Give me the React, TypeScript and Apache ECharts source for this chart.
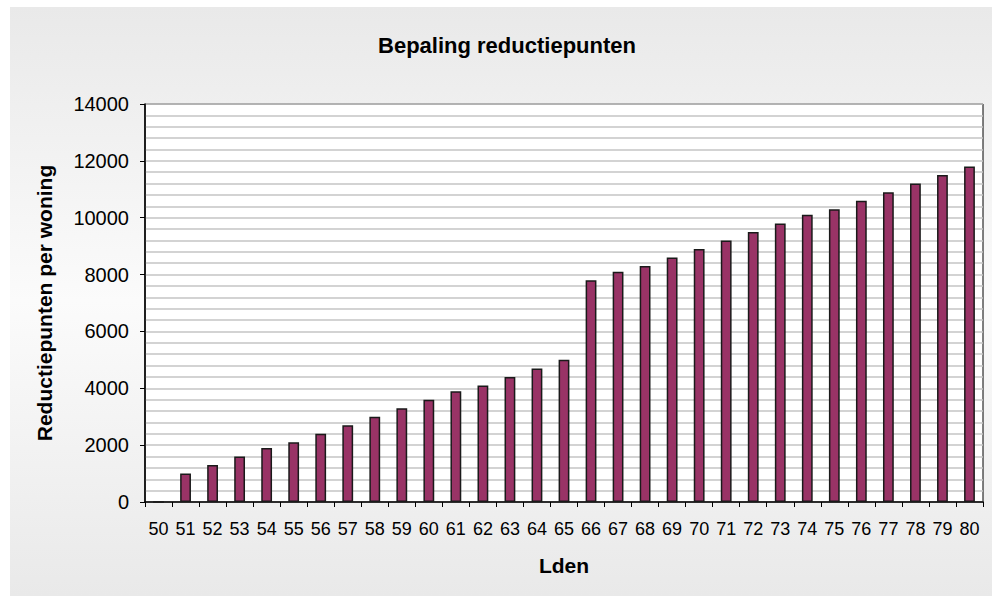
import React, { useEffect, useRef } from "react";
import * as echarts from "echarts";

const categories = ["50","51","52","53","54","55","56","57","58","59","60","61","62","63","64","65","66","67","68","69","70","71","72","73","74","75","76","77","78","79","80"];
const values = [0,1000,1300,1600,1900,2100,2400,2700,3000,3300,3600,3900,4100,4400,4700,5000,7800,8100,8300,8600,8900,9200,9500,9800,10100,10300,10600,10900,11200,11500,11800];
const titleText = "Bepaling reductiepunten";
const xName = "Lden";
const yName = "Reductiepunten per woning";

export default function App() {
  const ref = useRef<HTMLDivElement>(null);
  useEffect(() => {
    document.body.style.margin = "0";
    const chart = echarts.init(ref.current!, null, { renderer: "svg" });
    const font = "Arial, 'Liberation Sans', sans-serif";
    chart.setOption({
      animation: false,
      backgroundColor: "#ffffff",
      graphic: [
        {
          type: "rect",
          z: -10,
          shape: { x: 10, y: 7, width: 982, height: 589 },
          style: {
            fill: new echarts.graphic.LinearGradient(0, 0, 0, 1, [
              { offset: 0, color: "#e9e9e9" },
              { offset: 0.5, color: "#fbfbfb" },
              { offset: 1, color: "#e9e9e9" },
            ]),
          },
        },
      ],
      title: {
        text: titleText,
        left: 502,
        top: 29,
        textAlign: "center",
        textStyle: { fontFamily: font, fontWeight: "bold", fontSize: 22, color: "#000" },
      },
      grid: {
        left: 145,
        right: 9,
        top: 104,
        bottom: 94,
        show: true,
        backgroundColor: "#ffffff",
        borderColor: "#000000",
        borderWidth: 1,
      },
      xAxis: {
        type: "category",
        data: categories,
        name: xName,
        nameLocation: "middle",
        nameGap: 53,
        nameTextStyle: { fontFamily: font, fontWeight: "bold", fontSize: 21, color: "#000" },
        axisLine: { lineStyle: { color: "#000", width: 1.5 } },
        axisTick: { show: true, alignWithLabel: false, length: 5, lineStyle: { color: "#000" } },
        axisLabel: { fontFamily: font, fontSize: 18, color: "#000", margin: 18, interval: 0 },
        splitLine: { show: false },
      },
      yAxis: {
        type: "value",
        min: 0,
        max: 14000,
        interval: 2000,
        name: yName,
        nameLocation: "middle",
        nameGap: 90,
        nameTextStyle: { fontFamily: font, fontWeight: "bold", fontSize: 21, color: "#000" },
        axisLine: { show: true, lineStyle: { color: "#000", width: 1.5 } },
        axisTick: { show: true, length: 5, lineStyle: { color: "#000" } },
        axisLabel: { fontFamily: font, fontSize: 20, color: "#000", margin: 16, formatter: (v: number) => String(v) },
        splitLine: { show: true, lineStyle: { color: "#c4c4c4", width: 1.5 } },
        minorTick: { show: false, splitNumber: 5 },
        minorSplitLine: { show: true, lineStyle: { color: "#c4c4c4", width: 1.5 } },
      },
      series: [
        {
          type: "bar",
          data: values,
          barWidth: "40%",
          itemStyle: { color: "#993366", borderColor: "#1a1a1a", borderWidth: 1.5 },
        },
      ],
    });
    return () => chart.dispose();
  }, []);
  return <div ref={ref} style={{ width: 992, height: 596 }} />;
}
